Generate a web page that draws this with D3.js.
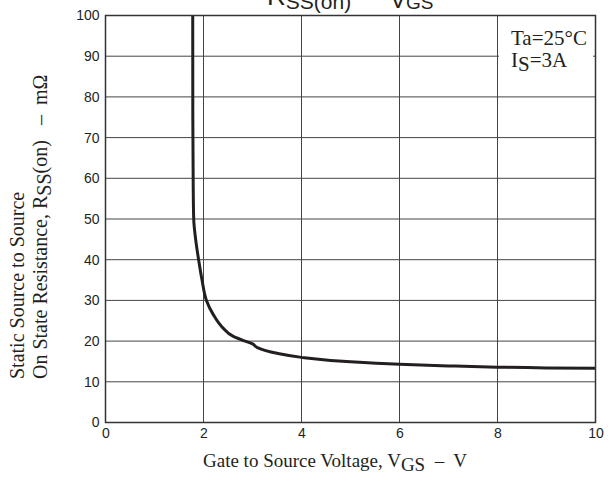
<!DOCTYPE html>
<html>
<head>
<meta charset="utf-8">
<script src="https://cdn.jsdelivr.net/npm/d3@7.9.0/dist/d3.min.js"></script>
<style>
  body { margin: 0; background: #fff; }
  svg { display: block; }
</style>
</head>
<body>
<svg id="chart" width="608" height="478"></svg>
<script>
// values: gate voltage (V) vs on resistance (mOhm)
const vgs = [1.78, 1.782, 1.79, 1.80, 1.84, 1.90, 1.97, 2.06, 2.2, 2.4, 2.6, 2.8, 3.0, 3.1, 3.5, 4.0, 5.0, 6.0, 7.0, 8.0, 9.0, 10.0];
const rss = [102, 75, 58, 50, 45, 40, 35, 30, 26.5, 23.2, 21.2, 20.2, 19.3, 18.4, 17.0, 16.0, 14.9, 14.3, 13.9, 13.6, 13.4, 13.3];
const xTicks = [0, 2, 4, 6, 8, 10];
const yTicks = [0, 10, 20, 30, 40, 50, 60, 70, 80, 90, 100];

const svg = d3.select('#chart');
const pLeft = 105.5, pRight = 595.5, pTop = 15.5, pBottom = 422.5;

const x = d3.scaleLinear().domain([0, 10]).range([pLeft, pRight]);
const y = d3.scaleLinear().domain([0, 100]).range([pBottom, pTop]);

const sans = 'Liberation Sans, Arial, sans-serif';
const serif = 'Liberation Serif, Times New Roman, serif';
const ink = '#231f20';

// grid
svg.append('g').selectAll('line').data(xTicks.slice(1, -1)).enter().append('line')
    .attr('x1', d => x(d)).attr('x2', d => x(d))
    .attr('y1', pTop).attr('y2', pBottom)
    .attr('stroke', '#444').attr('stroke-width', 1);
svg.append('g').selectAll('line').data(yTicks.slice(1, -1)).enter().append('line')
    .attr('x1', pLeft).attr('x2', pRight)
    .attr('y1', d => y(d)).attr('y2', d => y(d))
    .attr('stroke', '#444').attr('stroke-width', 1);

// legend box covers the grid
svg.append('rect').attr('x', 499).attr('y', 17).attr('width', 94).attr('height', 57).attr('fill', '#fff');

// curve
svg.append('clipPath').attr('id', 'clip').append('rect')
    .attr('x', pLeft).attr('y', pTop).attr('width', pRight - pLeft).attr('height', pBottom - pTop);
const pts = vgs.map((v, i) => [v, rss[i]]);
const line = d3.line().x(d => x(d[0])).y(d => y(d[1])).curve(d3.curveMonotoneY);
svg.append('path').datum(pts)
    .attr('clip-path', 'url(#clip)')
    .attr('d', line)
    .attr('fill', 'none').attr('stroke', ink).attr('stroke-width', 3);

// frame
svg.append('rect').attr('x', pLeft).attr('y', pTop).attr('width', pRight - pLeft).attr('height', pBottom - pTop)
    .attr('fill', 'none').attr('stroke', '#333').attr('stroke-width', 1.5);

// axes labels
const xAxis = d3.axisBottom(x).tickValues(xTicks).tickSize(0).tickPadding(6).tickFormat(d3.format('d'));
const gx = svg.append('g').attr('transform', `translate(0,${pBottom})`).call(xAxis);
gx.select('.domain').remove();
gx.selectAll('text').attr('font-family', sans).attr('font-size', 14).attr('fill', ink);

const yAxis = d3.axisLeft(y).tickValues(yTicks).tickSize(0).tickPadding(6).tickFormat(d3.format('d'));
const gy = svg.append('g').attr('transform', `translate(${pLeft},0)`).call(yAxis);
gy.select('.domain').remove();
gy.selectAll('text').attr('font-family', sans).attr('font-size', 14).attr('fill', ink);

// title (cut off at top)
const t1 = svg.append('text').attr('x', 267).attr('y', 5)
    .attr('font-family', sans).attr('font-size', 26).attr('fill', ink);
t1.append('tspan').text('R');
t1.append('tspan').attr('dy', 4).attr('font-size', 21).text('SS(on)');
const t2 = svg.append('text').attr('x', 390).attr('y', 8)
    .attr('font-family', sans).attr('font-size', 24).attr('fill', ink);
t2.append('tspan').text('V');
t2.append('tspan').attr('dy', 1).attr('font-size', 19).text('GS');

// x title
const xt = svg.append('text').attr('x', 203).attr('y', 467)
    .attr('font-family', serif).attr('font-size', 19).attr('fill', ink)
    .attr('xml:space', 'preserve');
xt.append('tspan').text('Gate to Source Voltage, V');
xt.append('tspan').attr('dy', 4).text('GS');
xt.append('tspan').attr('dy', -4).text('  \u2013  V');

// y title
svg.append('text').attr('transform', 'translate(24,379) rotate(-90)')
    .attr('font-family', serif).attr('font-size', 20).attr('fill', ink)
    .text('Static Source to Source');
const yt2 = svg.append('text').attr('transform', 'translate(47,379) rotate(-90)')
    .attr('font-family', serif).attr('font-size', 20).attr('fill', ink)
    .attr('xml:space', 'preserve');
yt2.append('tspan').text('On State Resistance, R');
yt2.append('tspan').attr('dy', 4).text('SS');
yt2.append('tspan').attr('dy', -4).text('(on)   \u2013  m\u03a9');

// legend
svg.append('text').attr('x', 511).attr('y', 45)
    .attr('font-family', serif).attr('font-size', 21).attr('fill', ink)
    .text('Ta=25\u00b0C');
const lg = svg.append('text').attr('x', 511).attr('y', 67)
    .attr('font-family', serif).attr('font-size', 21).attr('fill', ink);
lg.append('tspan').text('I');
lg.append('tspan').attr('dy', 4).text('S');
lg.append('tspan').attr('dy', -4).text('=3A');
</script>
</body>
</html>
